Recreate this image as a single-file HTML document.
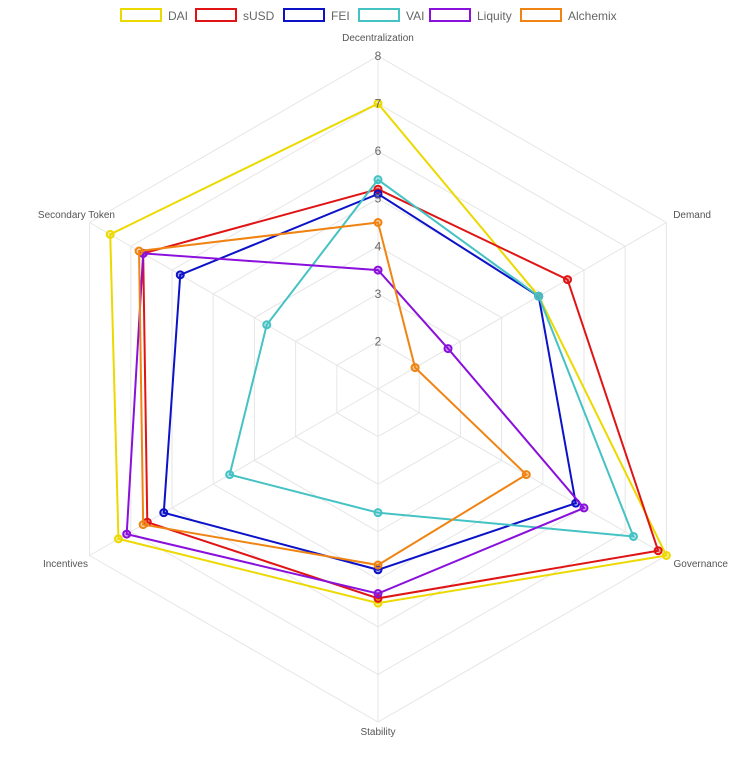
<!DOCTYPE html>
<html><head><meta charset="utf-8"><style>
body{margin:0;background:#fff;width:736px;height:775px;overflow:hidden}
svg{font-family:"Liberation Sans",Arial,sans-serif}
</style></head><body>
<svg id="chart" width="736" height="775"></svg>
<script>
const axes=["Decentralization","Demand","Governance","Stability","Incentives","Secondary Token"];
const seriesNames=["DAI","sUSD","FEI","VAI","Liquity","Alchemix"];
const dai=[7,4.9,8,5.5,7.3,7.5];
const susd=[5.2,5.6,7.8,5.4,6.6,6.7];
const fei=[5.1,4.9,5.8,4.8,6.2,5.8];
const vai=[5.4,4.9,7.2,3.6,4.6,3.7];
const liquity=[3.5,2.7,6,5.3,7.1,6.7];
const alchemix=[4.5,1.9,4.6,4.7,6.7,6.8];
const tickLabels=["2","3","4","5","6","7","8"];
const colors=["#ecd900","#e01414","#0c12c8","#44c2c4","#8a10dc","#f08412"];
const allSeries=[dai,susd,fei,vai,liquity,alchemix];
const cx=378,cy=389,R=333,vmin=1,vmax=8;
const NS="http://www.w3.org/2000/svg";
const svg=document.getElementById('chart');
function r(v){return (v-vmin)/(vmax-vmin)*R;}
function pt(i,v){const a=-Math.PI/2+i*Math.PI/3;return [cx+r(v)*Math.cos(a),cy+r(v)*Math.sin(a)];}
function mk(t,at){const e=document.createElementNS(NS,t);for(const k in at)e.setAttribute(k,at[k]);svg.appendChild(e);return e;}
// grid
for(let t=vmin;t<=vmax;t++){const p=axes.map((_,i)=>pt(i,t).join(',')).join(' ');
const g=mk('polygon',{points:p,fill:'none',stroke:'#e6e6e6','stroke-width':1});

}
axes.forEach((a,i)=>{const p=pt(i,vmax);const l=mk('line',{x1:cx,y1:cy,x2:p[0],y2:p[1],stroke:'#e6e6e6'});

});
// axis labels
const lp=[[378,41,'middle'],[711,218,'end'],[728,567,'end'],[378,735,'middle'],[88,567,'end'],[115,218,'end']];
axes.forEach((a,i)=>{const t=mk('text',{x:lp[i][0],y:lp[i][1],'text-anchor':lp[i][2],'font-size':10,fill:'#555'});t.textContent=a;

});
// series
allSeries.forEach((s,k)=>{const p=s.map((v,i)=>pt(i,v).join(',')).join(' ');
const pg=mk('polygon',{points:p,fill:'none',stroke:colors[k],'stroke-width':2});


s.forEach((v,i)=>{const q=pt(i,v);const c=mk('circle',{cx:q[0],cy:q[1],r:3.5,fill:colors[k],'fill-opacity':0.35,stroke:colors[k],'stroke-width':2});

});});
// ticks
tickLabels.forEach(t=>{const y=cy-r(+t);const e=mk('text',{x:cx,y:y+4,'text-anchor':'middle','font-size':12,fill:'#666'});e.textContent=t;

});
// legend
const lx=[121,196,284,359,430,521];
seriesNames.forEach((n,k)=>{const b=mk('rect',{x:lx[k],y:9,width:40,height:12,fill:'none',stroke:colors[k],'stroke-width':2});


const t=mk('text',{x:lx[k]+47,y:20,'font-size':12,fill:'#666'});t.textContent=n;

});
</script>
</body></html>
